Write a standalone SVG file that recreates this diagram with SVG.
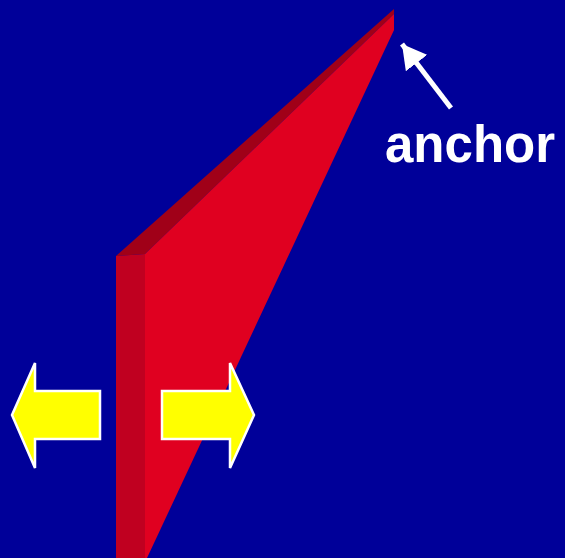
<svg xmlns="http://www.w3.org/2000/svg" width="565" height="558" viewBox="0 0 565 558">
<style>
.arr{fill:#FFFF00;stroke:#FFFFFF;stroke-width:2.5;stroke-linejoin:miter}
.lbl{font-family:"Liberation Sans",Arial,sans-serif;font-weight:bold;font-size:51px;fill:#FFFFFF}
</style>
<defs>
<marker id="ah" viewBox="0 0 10 10" refX="10" refY="5" markerWidth="4.8" markerHeight="5.4" preserveAspectRatio="none" orient="auto" markerUnits="strokeWidth">
<path d="M0,0 L10,5 L0,10 Z" fill="#FFFFFF"/>
</marker>
</defs>
<rect width="565" height="558" fill="#000099"/>
<g id="wedge">
<polygon points="116,256 394,9 394,14 145,254" fill="#A00018"/>
<polygon points="116,256 145,254 145,558 116,558" fill="#C00020"/>
<polygon points="145,254 394,14 394,30 147,558 145,558" fill="#E00020"/>
</g>
<g id="left-arrow">
<polygon class="arr" points="12,415 35,363 35,391 100,391 100,439 35,439 35,468"/>
</g>
<g id="right-arrow">
<polygon class="arr" points="254,415 230,363 230,391 162,391 162,439 230,439 230,468"/>
</g>
<g id="connectors">
<line x1="451" y1="108" x2="402" y2="44" stroke="#FFFFFF" stroke-width="5" marker-end="url(#ah)"/>
</g>
<g id="anchor-label">
<text class="lbl" x="385" y="162">anchor</text>
</g>
</svg>
